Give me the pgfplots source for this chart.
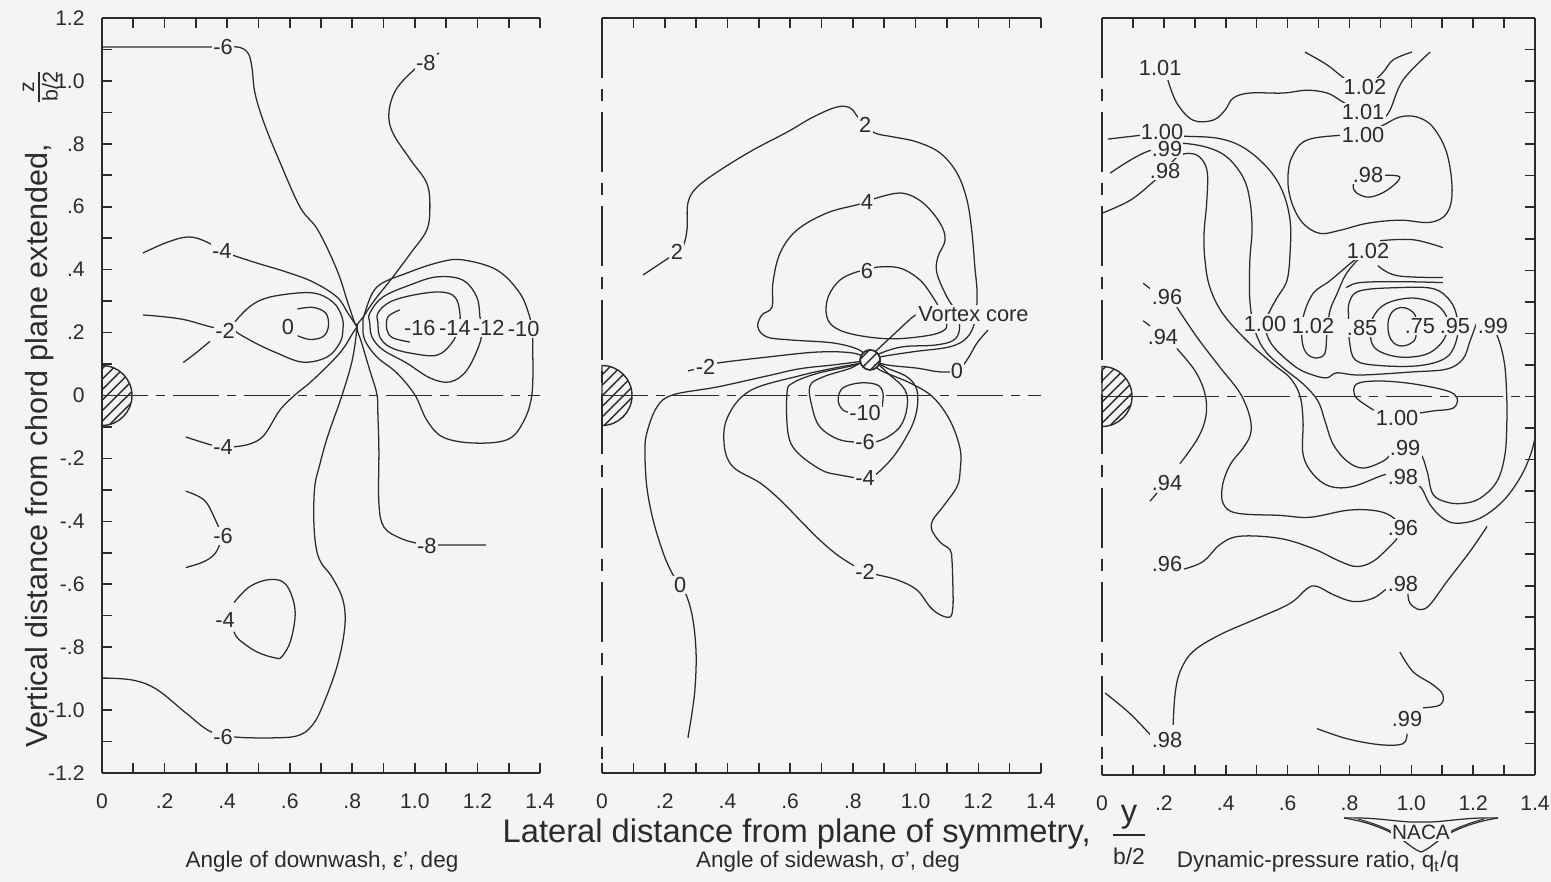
\documentclass[border=0pt]{standalone}
\usepackage{fontspec}
\setmainfont{Liberation Sans}
\usepackage{amsmath}
\usepackage{pgfplots}
\pgfplotsset{compat=1.18}
\usetikzlibrary{patterns}
\definecolor{bg}{HTML}{F4F4F2}
\definecolor{ink}{HTML}{2B2B2B}
\newcommand\tickfont{\fontsize{6.0}{7}\selectfont}
\newcommand\labfont{\fontsize{6.2}{7}\selectfont}
\tikzset{
 clab/.style={fill=bg, inner sep=0.4pt, font=\labfont, text=ink},
 zline/.style={ink, line width=0.4pt, dash pattern=on 4.6mm off 0.8mm on 0.9mm off 0.8mm},
 hatch/.style={ink, line width=0.4pt, pattern=north east lines, pattern color=ink},
 vline/.style={ink, line width=0.45pt, dash pattern=on 6mm off 1.1mm on 1.2mm off 1.1mm},
}
\pgfplotsset{
 panel/.style={
  scale only axis, height=75.5mm,
  xmin=0,xmax=1.4,ymin=-1.2,ymax=1.2,
  clip=false,
  axis x line*=box,
  xticklabel pos=lower,
  tick align=inside,
  major tick length=1mm, minor tick length=1mm,
  xtick={0,0.2,0.4,0.6,0.8,1.0,1.2,1.4},
  xticklabels={0,.2,.4,.6,.8,1.0,1.2,1.4},
  minor xtick={0.1,0.3,0.5,0.7,0.9,1.1,1.3},
  xticklabel style={font=\tickfont, text=ink, yshift=-0.85mm},
  axis line style={-, ink, line width=0.55pt},
  every outer x axis line/.append style={-},
  every outer y axis line/.append style={-},
  every tick/.style={ink, line width=0.45pt},
 },
 cl/.style={ink, line width=0.36pt, smooth, tension=0.6},
 clc/.style={ink, line width=0.36pt, smooth cycle, tension=0.6},
}
\begin{document}
\begin{tikzpicture}[x=1mm,y=1mm]
\fill[bg] (0,0) rectangle (155.1,88.2);
\useasboundingbox (0,0) rectangle (155.1,88.2);

% ================= Panel 1: downwash =================
\begin{axis}[panel, at={(10.2mm,10.9mm)}, anchor=south west, width=43.8mm,
 axis y line*=left,
 ytick={-1.2,-1,-0.8,-0.6,-0.4,-0.2,0,0.2,0.4,0.6,0.8,1,1.2},
 yticklabels={-1.2,-1.0,-.8,-.6,-.4,-.2,0,.2,.4,.6,.8,1.0,1.2},
 minor ytick={-1.1,-0.9,-0.7,-0.5,-0.3,-0.1,0.1,0.3,0.5,0.7,0.9,1.1},
 yticklabel style={font=\tickfont, text=ink, xshift=-0.5mm},
]
\draw[zline] (axis cs:0,0) -- (axis cs:1.4,0);
\draw[hatch] (axis cs:0,0) ++(0pt,-3mm) arc[start angle=-90,end angle=90,radius=3mm] -- cycle;
\addplot[cl] coordinates {(0,1.108)(0.33,1.108)(0.43,1.108)(0.466,1.089)(0.479,1.044)(0.489,0.961)(0.518,0.866)(0.566,0.748)(0.633,0.599)(0.69,0.526)(0.751,0.399)(0.786,0.294)(0.808,0.23)(0.815,0.218)(0.80,0.113)(0.767,0.0)(0.735,-0.09)(0.715,-0.15)(0.696,-0.22)(0.68,-0.29)(0.677,-0.396)(0.684,-0.482)(0.70,-0.531)(0.735,-0.577)(0.77,-0.65)(0.776,-0.736)(0.751,-0.862)(0.70,-0.999)(0.668,-1.053)(0.63,-1.08)(0.566,-1.088)(0.43,-1.086)(0.348,-1.069)(0.268,-1.009)(0.176,-0.935)(0.10,-0.905)(0,-0.898)};
\addplot[cl] coordinates {(1.077,1.089)(1.032,1.057)(0.997,1.035)(0.939,0.971)(0.917,0.898)(0.93,0.834)(0.987,0.748)(1.038,0.675)(1.048,0.599)(1.038,0.526)(0.987,0.453)(0.93,0.377)(0.872,0.304)(0.835,0.25)(0.815,0.218)(0.83,0.167)(0.856,0.08)(0.879,0.002)(0.882,-0.068)(0.885,-0.173)(0.885,-0.342)(0.901,-0.418)(0.952,-0.453)(1.003,-0.469)(1.038,-0.476)(1.07,-0.475)(1.227,-0.475)};
\addplot[cl] coordinates {(0.131,0.453)(0.211,0.488)(0.278,0.504)(0.335,0.488)(0.383,0.459)(0.415,0.447)(0.495,0.421)(0.588,0.393)(0.674,0.361)(0.751,0.313)(0.786,0.262)(0.815,0.218)};
\addplot[cl] coordinates {(0.268,-0.132)(0.348,-0.157)(0.387,-0.164)(0.415,-0.164)(0.473,-0.154)(0.518,-0.126)(0.569,-0.046)(0.617,0.002)(0.674,0.049)(0.76,0.135)(0.802,0.199)(0.815,0.218)};
\addplot[clc] coordinates {(0.42,0.215)(0.45,0.262)(0.50,0.30)(0.569,0.319)(0.674,0.326)(0.738,0.297)(0.767,0.25)(0.770,0.208)(0.760,0.167)(0.719,0.122)(0.642,0.106)(0.559,0.135)(0.473,0.176)};
\addplot[cl] coordinates {(0.131,0.256)(0.2,0.25)(0.268,0.24)(0.348,0.218)(0.40,0.21)};
\addplot[cl] coordinates {(0.26,0.105)(0.30,0.135)(0.345,0.172)};
\addplot[cl] coordinates {(0.625,0.275)(0.674,0.28)(0.715,0.262)(0.724,0.222)(0.708,0.188)(0.665,0.178)(0.625,0.19)};
\addplot[cl] coordinates {(0.952,0.272)(0.914,0.25)(0.911,0.208)(0.93,0.183)(0.984,0.17)};
\addplot[clc] coordinates {(0.882,0.262)(0.92,0.297)(0.994,0.319)(1.08,0.329)(1.128,0.313)(1.144,0.262)(1.14,0.215)(1.118,0.167)(1.07,0.128)(0.984,0.135)(0.92,0.154)(0.888,0.186)(0.882,0.23)};
\addplot[clc] coordinates {(0.856,0.262)(0.898,0.313)(0.984,0.351)(1.07,0.377)(1.153,0.367)(1.198,0.313)(1.208,0.25)(1.212,0.215)(1.208,0.167)(1.166,0.08)(1.112,0.043)(1.048,0.056)(0.974,0.103)(0.898,0.145)(0.863,0.186)(0.856,0.23)};
\addplot[clc] coordinates {(0.840,0.262)(0.879,0.345)(0.974,0.389)(1.08,0.424)(1.153,0.431)(1.262,0.399)(1.335,0.326)(1.367,0.25)(1.375,0.2)(1.377,0.145)(1.374,0.002)(1.345,-0.087)(1.294,-0.141)(1.185,-0.151)(1.089,-0.132)(1.038,-0.078)(1.0,0.002)(0.942,0.072)(0.879,0.122)(0.84,0.176)(0.834,0.224)};
\addplot[cl] coordinates {(0.268,-0.304)(0.326,-0.332)(0.358,-0.386)(0.38,-0.447)(0.364,-0.499)(0.326,-0.528)(0.268,-0.547)};
\addplot[cl] coordinates {(0.422,-0.658)(0.473,-0.607)(0.537,-0.585)(0.588,-0.601)(0.617,-0.681)(0.604,-0.776)(0.575,-0.830)(0.553,-0.834)(0.495,-0.815)(0.438,-0.776)(0.422,-0.751)};
\node[clab] at (axis cs:0.387,1.108) {-6};
\node[clab] at (axis cs:1.035,1.058) {-8};
\node[clab] at (axis cs:0.383,0.459) {-4};
\node[clab] at (axis cs:0.393,0.205) {-2};
\node[clab] at (axis cs:0.594,0.218) {0};
\node[clab] at (axis cs:1.016,0.215) {-16};
\node[clab] at (axis cs:1.128,0.215) {-14};
\node[clab] at (axis cs:1.236,0.215) {-12};
\node[clab] at (axis cs:1.348,0.212) {-10};
\node[clab] at (axis cs:0.387,-0.164) {-4};
\node[clab] at (axis cs:0.387,-0.447) {-6};
\node[clab] at (axis cs:1.038,-0.478) {-8};
\node[clab] at (axis cs:0.393,-0.713) {-4};
\node[clab] at (axis cs:0.387,-1.085) {-6};
\end{axis}

% ================= Panel 2: sidewash =================
\begin{axis}[panel, at={(60.2mm,10.9mm)}, anchor=south west, width=43.9mm,
 axis y line*=left, y axis line style={draw=none}, ytick=\empty,
]
\draw[vline] (axis cs:0,1.2) -- (axis cs:0,-1.2);
\draw[zline] (axis cs:0,0) -- (axis cs:1.4,0);
\draw[hatch] (axis cs:0,0) ++(0pt,-3mm) arc[start angle=-90,end angle=90,radius=3mm] -- cycle;
\addplot[cl] coordinates {(0.131,0.383)(0.217,0.44)(0.239,0.453)(0.258,0.472)(0.271,0.526)(0.274,0.612)(0.303,0.662)(0.376,0.716)(0.481,0.78)(0.59,0.837)(0.673,0.885)(0.749,0.917)(0.791,0.914)(0.816,0.885)(0.839,0.86)(0.871,0.834)(0.928,0.822)(1.004,0.806)(1.078,0.771)(1.132,0.707)(1.164,0.621)(1.18,0.516)(1.189,0.408)(1.196,0.326)(1.19,0.24)(1.165,0.185)(1.11,0.155)(1.0,0.14)(0.9,0.125)(0.855,0.113)};
\addplot[cl] coordinates {(0.855,0.113)(0.82,0.145)(0.737,0.167)(0.609,0.176)(0.526,0.186)(0.497,0.218)(0.510,0.256)(0.542,0.281)(0.545,0.358)(0.568,0.453)(0.622,0.526)(0.717,0.58)(0.813,0.606)(0.845,0.615)(0.886,0.631)(0.96,0.643)(1.024,0.612)(1.078,0.548)(1.094,0.494)(1.071,0.44)(1.068,0.389)(1.1,0.313)(1.132,0.262)(1.14,0.21)(1.12,0.175)(1.06,0.16)(0.96,0.155)(0.89,0.135)(0.855,0.113)};
\addplot[clc] coordinates {(0.845,0.396)(0.877,0.408)(0.95,0.405)(1.014,0.367)(1.055,0.313)(1.08,0.27)(1.1,0.228)(1.087,0.205)(1.036,0.19)(0.928,0.18)(0.823,0.19)(0.749,0.212)(0.717,0.25)(0.721,0.313)(0.759,0.367)(0.813,0.393)};
\addplot[cl] coordinates {(0.274,0.078)(0.33,0.092)(0.367,0.103)(0.526,0.122)(0.686,0.138)(0.80,0.135)(0.855,0.113)};
\addplot[cl] coordinates {(1.231,0.208)(1.196,0.167)(1.164,0.113)(1.132,0.08)(1.078,0.075)(1.004,0.087)(0.909,0.097)(0.855,0.113)(0.823,0.108)(0.737,0.097)(0.631,0.085)(0.526,0.062)(0.367,0.027)(0.226,0.002)(0.175,-0.037)(0.143,-0.119)(0.137,-0.183)(0.143,-0.291)(0.163,-0.396)(0.195,-0.5)(0.223,-0.564)(0.249,-0.602)(0.271,-0.64)(0.29,-0.713)(0.30,-0.818)(0.297,-0.926)(0.287,-1.009)(0.274,-1.088)};
\addplot[cl] coordinates {(0.855,0.113)(0.886,0.081)(0.982,0.04)(1.055,-0.005)(1.11,-0.08)(1.142,-0.17)(1.142,-0.24)(1.132,-0.29)(1.087,-0.354)(1.055,-0.396)(1.052,-0.428)(1.078,-0.466)(1.11,-0.491)(1.116,-0.523)(1.119,-0.609)(1.119,-0.672)(1.11,-0.704)(1.078,-0.697)(1.046,-0.672)(1.004,-0.618)(0.941,-0.586)(0.864,-0.567)(0.839,-0.561)(0.759,-0.513)(0.695,-0.46)(0.631,-0.396)(0.568,-0.332)(0.504,-0.278)(0.418,-0.227)(0.39,-0.16)(0.40,-0.07)(0.472,0.015)(0.631,0.063)(0.74,0.087)(0.82,0.102)(0.855,0.113)};
\addplot[clc] coordinates {(0.855,0.113)(0.80,0.095)(0.686,0.07)(0.609,0.04)(0.59,0.008)(0.593,-0.119)(0.622,-0.18)(0.70,-0.237)(0.759,-0.253)(0.839,-0.265)(0.864,-0.259)(0.928,-0.196)(0.982,-0.11)(1.004,-0.046)(1.004,0.018)(0.973,0.059)(0.909,0.087)};
\addplot[clc] coordinates {(0.855,0.113)(0.791,0.086)(0.705,0.059)(0.663,0.03)(0.67,-0.037)(0.695,-0.1)(0.759,-0.141)(0.839,-0.148)(0.893,-0.141)(0.95,-0.1)(0.973,-0.037)(0.966,0.018)(0.918,0.065)};
\addplot[cl] coordinates {(0.893,-0.037)(0.896,0.008)(0.877,0.034)(0.823,0.040)(0.768,0.024)(0.753,-0.014)(0.768,-0.046)(0.80,-0.056)};
\draw[hatch, fill=bg] (axis cs:0.855,0.113) circle[radius=1mm];
\draw[hatch] (axis cs:0.855,0.113) circle[radius=1mm];
\draw[ink, line width=0.36pt] (axis cs:0.872,0.14) -- (axis cs:0.985,0.245) -- (axis cs:1.0,0.256);
\node[clab, anchor=west, inner sep=0.6pt] at (axis cs:1.0,0.258) {Vortex core};
\node[clab] at (axis cs:0.239,0.455) {2};
\node[clab] at (axis cs:0.839,0.86) {2};
\node[clab] at (axis cs:0.845,0.615) {4};
\node[clab] at (axis cs:0.845,0.396) {6};
\node[clab] at (axis cs:0.33,0.092) {-2};
\node[clab] at (axis cs:1.132,0.078) {0};
\node[clab] at (axis cs:0.839,-0.055) {-10};
\node[clab] at (axis cs:0.839,-0.148) {-6};
\node[clab] at (axis cs:0.839,-0.262) {-4};
\node[clab] at (axis cs:0.839,-0.561) {-2};
\node[clab] at (axis cs:0.249,-0.602) {0};
\end{axis}

% ================= Panel 3: dynamic pressure =================
\begin{axis}[panel, at={(110.2mm,10.7mm)}, anchor=south west, width=43.3mm, height=75.7mm,
 axis y line*=right,
 ytick={-1.2,-1,-0.8,-0.6,-0.4,-0.2,0,0.2,0.4,0.6,0.8,1,1.2},
 yticklabels={{},{},{},{},{},{},{},{},{},{},{},{},{}},
 minor ytick={-1.1,-0.9,-0.7,-0.5,-0.3,-0.1,0.1,0.3,0.5,0.7,0.9,1.1},
]
\draw[vline] (axis cs:0,1.2) -- (axis cs:0,-1.2);
\draw[zline] (axis cs:0,0) -- (axis cs:1.4,0);
\draw[hatch] (axis cs:0,0) ++(0pt,-3mm) arc[start angle=-90,end angle=90,radius=3mm] -- cycle;
\addplot[cl] coordinates {(0.213,1.003)(0.242,0.930)(0.294,0.876)(0.359,0.876)(0.398,0.908)(0.424,0.946)(0.478,0.962)(0.585,0.962)(0.663,0.971)(0.728,0.962)(0.77,0.939)(0.795,0.924)(0.844,0.905)(0.906,0.886)(0.931,0.908)(0.973,1.003)(1.061,1.092)};
\addplot[cl] coordinates {(0.656,1.092)(0.728,1.051)(0.792,1.003)(0.85,0.981)(0.906,1.025)(0.941,1.067)(1.002,1.092)};
\addplot[clc] coordinates {(0.844,0.829)(0.786,0.829)(0.663,0.813)(0.614,0.759)(0.601,0.686)(0.614,0.613)(0.65,0.549)(0.705,0.517)(0.77,0.527)(0.857,0.549)(0.963,0.559)(1.06,0.552)(1.115,0.581)(1.132,0.654)(1.115,0.771)(1.07,0.854)(1.018,0.886)(0.963,0.886)(0.909,0.860)};
\addplot[cl] coordinates {(0.88,0.702)(0.906,0.702)(0.963,0.695)(0.922,0.654)(0.866,0.632)(0.825,0.644)(0.812,0.664)(0.818,0.686)};
\addplot[cl] coordinates {(0.019,0.816)(0.133,0.829)(0.194,0.835)(0.252,0.826)(0.372,0.819)(0.456,0.79)(0.533,0.727)(0.582,0.654)(0.608,0.559)(0.608,0.454)(0.598,0.368)(0.566,0.313)(0.543,0.272)(0.527,0.231)(0.537,0.186)(0.566,0.145)(0.63,0.091)(0.682,0.068)(0.727,0.059)(0.76,0.075)(0.834,0.068)(1.006,0.078)(1.115,0.087)(1.167,0.119)(1.19,0.176)(1.216,0.246)};
\addplot[cl] coordinates {(0.026,0.708)(0.091,0.749)(0.15,0.778)(0.21,0.79)(0.252,0.803)(0.339,0.79)(0.404,0.759)(0.456,0.695)(0.478,0.622)(0.485,0.527)(0.478,0.431)(0.478,0.304)(0.495,0.208)(0.527,0.145)(0.585,0.091)(0.65,0.040)(0.698,-0.014)(0.721,-0.078)(0.747,-0.151)(0.792,-0.205)(0.844,-0.227)(0.909,-0.205)(0.938,-0.18)(0.98,-0.164)(1.028,-0.18)(1.051,-0.237)(1.07,-0.31)(1.115,-0.335)(1.167,-0.339)(1.222,-0.323)(1.277,-0.269)(1.303,-0.183)(1.309,-0.078)(1.309,-0.014)(1.303,0.091)(1.287,0.167)(1.264,0.224)};
\addplot[cl] coordinates {(0,0.581)(0.091,0.622)(0.165,0.68)(0.204,0.718)(0.252,0.765)(0.307,0.765)(0.339,0.718)(0.339,0.622)(0.33,0.517)(0.333,0.431)(0.349,0.345)(0.391,0.262)(0.469,0.176)(0.553,0.103)(0.608,0.059)(0.64,0.002)(0.65,-0.078)(0.65,-0.183)(0.682,-0.246)(0.737,-0.285)(0.812,-0.285)(0.922,-0.246)(0.973,-0.256)(1.028,-0.285)(1.06,-0.342)(1.102,-0.386)(1.148,-0.402)(1.222,-0.386)(1.296,-0.332)(1.351,-0.259)(1.384,-0.189)(1.4,-0.132)};
\addplot[cl] coordinates {(0.899,0.494)(1.006,0.497)(1.102,0.472)};
\addplot[cl] coordinates {(0.892,0.415)(0.954,0.383)(1.102,0.377)};
\addplot[cl] coordinates {(0.84,0.45)(0.802,0.421)(0.737,0.367)(0.682,0.326)(0.65,0.25)(0.647,0.176)(0.663,0.135)(0.695,0.122)(0.721,0.138)(0.727,0.199)(0.737,0.272)(0.76,0.326)(0.786,0.383)(0.818,0.424)(0.845,0.447)};
\addplot[cl] coordinates {(0.79,0.345)(0.834,0.361)(0.963,0.364)(1.102,0.361)};
\addplot[clc] coordinates {(0.80,0.30)(0.834,0.335)(0.954,0.345)(1.07,0.342)(1.125,0.304)(1.148,0.25)(1.148,0.186)(1.115,0.125)(1.028,0.098)(0.899,0.098)(0.82,0.115)(0.80,0.176)(0.797,0.25)};
\addplot[clc] coordinates {(0.876,0.25)(0.92,0.295)(1.006,0.312)(1.083,0.29)(1.118,0.24)(1.105,0.18)(1.051,0.135)(0.963,0.125)(0.889,0.148)(0.868,0.19)};
\addplot[clc] coordinates {(1.015,0.25)(0.995,0.275)(0.965,0.282)(0.938,0.268)(0.925,0.235)(0.928,0.195)(0.945,0.168)(0.97,0.16)(0.998,0.168)(1.015,0.19)};
\addplot[clc] coordinates {(0.824,0.040)(0.899,0.049)(1.006,0.040)(1.115,0.018)(1.148,-0.005)(1.135,-0.037)(1.07,-0.046)(1.006,-0.056)(0.954,-0.068)(0.899,-0.052)(0.857,-0.03)(0.818,0.002)};
\addplot[cl] coordinates {(0.133,0.359)(0.162,0.337)};
\addplot[cl] coordinates {(0.242,0.283)(0.307,0.188)(0.381,0.093)(0.446,0.011)(0.478,-0.065)(0.48,-0.12)(0.455,-0.165)(0.415,-0.215)(0.39,-0.28)(0.392,-0.34)(0.437,-0.37)(0.575,-0.377)(0.672,-0.383)(0.792,-0.361)(0.876,-0.361)(0.931,-0.377)(0.973,-0.415)};
\addplot[cl] coordinates {(0.133,0.24)(0.155,0.224)};
\addplot[cl] coordinates {(0.242,0.152)(0.301,0.081)(0.333,0.008)(0.336,-0.062)(0.31,-0.132)(0.252,-0.213)};
\addplot[cl] coordinates {(0.178,-0.306)(0.155,-0.332)};
\addplot[cl] coordinates {(0.245,-0.545)(0.262,-0.548)(0.327,-0.523)(0.382,-0.469)(0.446,-0.443)(0.575,-0.45)(0.682,-0.482)(0.77,-0.523)(0.824,-0.539)(0.876,-0.523)(0.931,-0.475)(0.954,-0.45)};
\addplot[cl] coordinates {(0.23,-1.041)(0.236,-0.946)(0.252,-0.873)(0.294,-0.809)(0.382,-0.755)(0.501,-0.704)(0.608,-0.656)(0.663,-0.609)(0.695,-0.602)(0.747,-0.628)(0.812,-0.65)(0.876,-0.64)(0.922,-0.609)(0.95,-0.597)};
\addplot[cl] coordinates {(0.989,-0.625)(0.996,-0.656)(1.028,-0.676)(1.06,-0.66)(1.115,-0.587)(1.19,-0.491)(1.245,-0.412)};
\addplot[cl] coordinates {(0.01,-0.94)(0.091,-1.006)(0.165,-1.082)};
\addplot[cl] coordinates {(0.963,-0.81)(1.006,-0.873)(1.07,-0.914)(1.102,-0.946)(1.093,-0.978)(1.038,-0.987)};
\addplot[cl] coordinates {(0.695,-1.053)(0.792,-1.085)(0.899,-1.104)(0.973,-1.101)(0.986,-1.069)};
\node[clab] at (axis cs:0.188,1.041) {1.01};
\node[clab] at (axis cs:0.85,0.981) {1.02};
\node[clab] at (axis cs:0.844,0.902) {1.01};
\node[clab] at (axis cs:0.844,0.829) {1.00};
\node[clab] at (axis cs:0.86,0.702) {.98};
\node[clab, inner sep=0.2pt] at (axis cs:0.194,0.84) {1.00};
\node[clab, inner sep=0.2pt] at (axis cs:0.21,0.784) {.99};
\node[clab] at (axis cs:0.204,0.716) {.98};
\node[clab] at (axis cs:0.86,0.462) {1.02};
\node[clab] at (axis cs:0.21,0.315) {.96};
\node[clab] at (axis cs:0.197,0.188) {.94};
\node[clab] at (axis cs:0.527,0.231) {1.00};
\node[clab] at (axis cs:0.682,0.224) {1.02};
\node[clab] at (axis cs:0.841,0.218) {.85};
\node[clab] at (axis cs:1.028,0.224) {.75};
\node[clab] at (axis cs:1.141,0.224) {.95};
\node[clab] at (axis cs:1.264,0.224) {.99};
\node[clab] at (axis cs:0.954,-0.068) {1.00};
\node[clab] at (axis cs:0.98,-0.164) {.99};
\node[clab] at (axis cs:0.973,-0.256) {.98};
\node[clab] at (axis cs:0.21,-0.275) {.94};
\node[clab] at (axis cs:0.973,-0.418) {.96};
\node[clab] at (axis cs:0.21,-0.532) {.96};
\node[clab] at (axis cs:0.973,-0.593) {.98};
\node[clab] at (axis cs:0.986,-1.021) {.99};
\node[clab] at (axis cs:0.21,-1.088) {.98};
\end{axis}

% ================= titles =================
\node[rotate=90, anchor=base west, text=ink, font=\fontsize{8.7}{10}\selectfont, inner sep=0pt] at (4.7,13.4)
 {Vertical distance from chord plane extended,\hspace{3.8mm}$\frac{\text{z}}{\text{b/2}}$};
\node[anchor=base west, text=ink, font=\fontsize{9.3}{11}\selectfont, inner sep=0pt] at (50.2,3.9)
 {Lateral distance from plane of symmetry,\ \ $\dfrac{\text{y}}{\text{\fontsize{6.5}{7}\selectfont b/2}}$};
\node[anchor=base, text=ink, font=\fontsize{6.4}{7}\selectfont, inner sep=0pt] at (32.2,1.4) {Angle of downwash, ε', deg};
\node[anchor=base, text=ink, font=\fontsize{6.4}{7}\selectfont, inner sep=0pt] at (82.8,1.4) {Angle of sidewash, σ', deg};
\node[anchor=base, text=ink, font=\fontsize{6.4}{7}\selectfont, inner sep=0pt] at (131.8,1.4) {Dynamic-pressure ratio, q\textsubscript{t}/q};
% NACA wings
\draw[ink, line width=0.35pt] (134.4,6.4) .. controls (138,6.5) and (140,5.9) .. (142.1,6.0) .. controls (144.2,5.9) and (146.2,6.5) .. (149.8,6.4);
\draw[ink, line width=0.35pt] (134.4,6.4) .. controls (137,6.0) and (139,5.1) .. (140.0,4.4) .. controls (140.8,3.8) and (141.5,3.2) .. (142.1,3.0) .. controls (142.7,3.2) and (143.4,3.8) .. (144.2,4.4) .. controls (145.2,5.1) and (147.2,6.0) .. (149.8,6.4);
\draw[ink, line width=0.3pt] (135.8,6.3) .. controls (137.6,5.8) and (138.8,5.3) .. (139.6,4.8);
\draw[ink, line width=0.3pt] (148.4,6.3) .. controls (146.6,5.8) and (145.4,5.3) .. (144.6,4.8);
\node[text=ink, font=\fontsize{5.9}{7}\selectfont, inner sep=0.4pt, fill=bg] at (142.1,5.0) {NACA};
\end{tikzpicture}
\end{document}
